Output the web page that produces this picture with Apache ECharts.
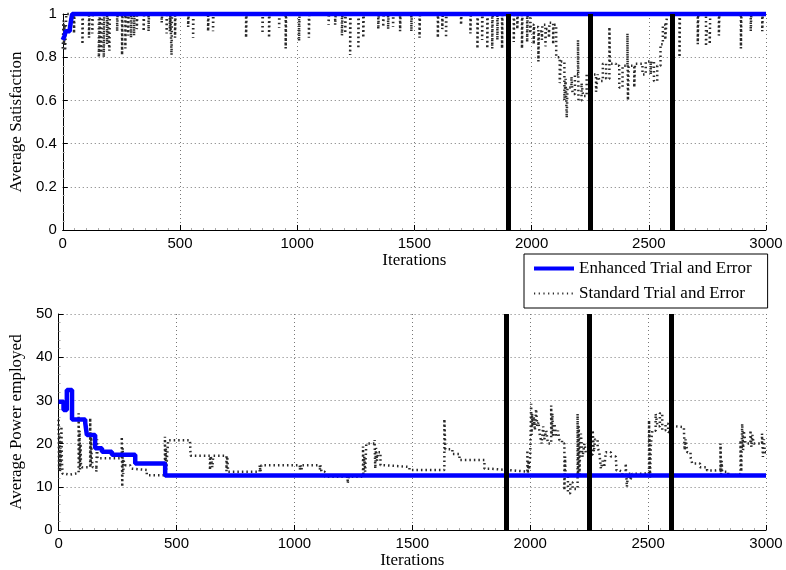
<!DOCTYPE html>
<html>
<head>
<meta charset="utf-8">
<script src="https://cdn.jsdelivr.net/npm/echarts@6/dist/echarts.min.js"></script>
<style>
  html, body { margin: 0; padding: 0; background: #fff; }
  #chart { width: 786px; height: 570px; }
</style>
</head>
<body>
<div id="chart"></div>
<script>
// Iteration markers where the network configuration changes
const eventIters = [1900, 2250, 2600];

// Average satisfaction, enhanced trial and error (step signal)
const satEnhIter = [0, 8, 12, 30, 34, 40, 3000];
const satEnhVal  = [0.88, 0.90, 0.92, 0.93, 0.96, 1, 1];

// Average satisfaction, standard trial and error (step signal)
const satStdIter = [
  0, 3, 5, 8, 10, 13, 15,
  48, 50, 84, 86, 112, 114, 126, 128,
  154, 156, 158, 164, 166, 175, 177, 189, 191, 199, 201,
  232, 234, 253, 255, 267, 269, 279, 281, 291, 293, 295, 304, 306, 316, 318,
  345, 347, 366, 368, 422, 424, 443, 445, 457, 459, 464, 466, 479, 481,
  535, 537, 556, 558, 620, 622, 641, 643, 782, 784,
  852, 854, 880, 882, 923, 925, 951, 953, 1008, 1010, 1050, 1052,
  1134, 1136, 1162, 1164, 1191, 1193, 1205, 1207, 1226, 1228, 1261, 1263, 1282, 1284,
  1346, 1348, 1367, 1369, 1388, 1390, 1409, 1411, 1439, 1441, 1487, 1489,
  1522, 1524, 1600, 1602, 1619, 1621, 1635, 1637, 1699, 1701, 1739, 1741,
  1769, 1771, 1789, 1791, 1811, 1813, 1832, 1834, 1854, 1856, 1874, 1876,
  1924, 1926, 1939, 1941, 1959, 1961, 1981, 1983,
  1994, 1996, 2009, 2011, 2029, 2031, 2044, 2046, 2059, 2061, 2074, 2076, 2092, 2094,
  2105, 2120, 2125, 2140, 2145, 2150, 2153, 2170, 2175, 2185, 2198, 2200, 2213, 2220, 2235,
  2262, 2275, 2282, 2290, 2304, 2318, 2332, 2334, 2360, 2374, 2388, 2409, 2411, 2414,
  2438, 2441, 2473, 2487, 2508, 2511, 2522, 2536, 2550, 2560, 2570, 2578,
  2631, 2633, 2709, 2711, 2744, 2746, 2760, 2762, 2799, 2801,
  2893, 2895, 2935, 2937, 2984, 2986, 3000
];
const satStdVal = [
  0.84, 0.97, 0.86, 0.95, 0.83, 0.92, 1,
  0.91, 1, 0.86, 1, 0.89, 1, 0.91, 1,
  0.80, 0.90, 1, 0.82, 1, 0.80, 1, 0.86, 1, 0.83, 1,
  0.92, 1, 0.81, 1, 0.84, 1, 0.90, 1, 0.89, 0.95, 1, 0.90, 1, 0.93, 1,
  0.92, 1, 0.92, 1, 0.96, 1, 0.91, 1, 0.92, 1, 0.81, 1, 0.89, 1,
  0.94, 1, 0.89, 1, 0.92, 1, 0.92, 1, 0.89, 1,
  0.91, 1, 0.89, 1, 0.935, 1, 0.84, 1, 0.875, 1, 0.89, 1,
  0.95, 1, 0.95, 1, 0.90, 1, 0.91, 1, 0.81, 1, 0.84, 1, 0.89, 1,
  0.93, 1, 0.94, 1, 0.93, 1, 0.94, 1, 0.92, 1, 0.92, 1,
  0.89, 1, 0.89, 1, 0.93, 1, 0.89, 1, 0.95, 1, 0.91, 1,
  0.84, 1, 0.88, 1, 0.84, 1, 0.84, 1, 0.88, 1, 0.84, 1,
  0.87, 1, 0.93, 1, 0.84, 1, 0.87, 1,
  0.91, 0.95, 0.86, 0.94, 0.78, 0.92, 0.88, 0.95, 0.85, 0.93, 0.89, 0.96, 0.86, 0.95,
  0.80, 0.68, 0.78, 0.60, 0.70, 0.52, 0.66, 0.71, 0.63, 0.72, 0.88, 0.60, 0.68, 0.62, 0.72,
  0.72, 0.64, 0.72, 0.69, 0.77, 0.70, 0.94, 0.77, 0.76, 0.66, 0.76, 0.91, 0.60, 0.76,
  0.66, 0.77, 0.72, 0.78, 0.72, 0.78, 0.69, 0.76, 0.86, 0.95, 0.88, 1,
  0.80, 1, 0.86, 1, 0.85, 0.92, 0.86, 1, 0.90, 1,
  0.84, 1, 0.92, 1, 0.92, 1, 1
];

// Average power employed, enhanced trial and error (step signal)
const powEnhIter = [0, 21, 35, 57, 113, 120, 155, 184, 226, 325, 452, 3000];
const powEnhVal  = [29.7, 27.8, 32.4, 25.6, 24.8, 22.0, 18.9, 18.1, 17.4, 15.4, 12.6, 12.6];

// Average power employed, standard trial and error (step signal)
const powStdIter = [
  0, 2, 4, 6, 8, 10, 12, 14, 17, 30, 45,
  85, 87, 89, 91, 93, 95, 100,
  134, 136, 138, 140, 145, 160, 163, 165,
  268, 270, 272, 274, 276, 282, 303, 310, 317, 374,
  451, 453, 455, 457, 460, 465, 557, 560,
  642, 645, 652, 656, 712, 715, 719,
  853, 856, 860, 1023, 1026, 1030, 1033,
  1108, 1110, 1115, 1129, 1226, 1230,
  1291, 1293, 1296, 1300, 1305, 1340, 1343, 1346, 1350, 1355, 1365, 1382,
  1488, 1636, 1640, 1670, 1700, 1806, 1827, 1925,
  1988, 1990, 1993, 1996, 2000,
  2004, 2006, 2008, 2010, 2015, 2020, 2025, 2030, 2035, 2040, 2048, 2055, 2060, 2068, 2075,
  2089, 2091, 2094, 2097, 2103, 2110, 2118, 2124, 2135,
  2145, 2148, 2150, 2160, 2170, 2180,
  2201, 2203, 2206, 2209, 2212, 2215, 2222, 2230, 2237,
  2265, 2270, 2275, 2286, 2293, 2300, 2307, 2314, 2321, 2342,
  2363, 2366, 2377, 2391, 2405, 2410, 2415, 2425, 2433, 2447,
  2504, 2508, 2512, 2518, 2532, 2540, 2550, 2560, 2574, 2585, 2595,
  2616, 2652, 2655, 2659, 2666, 2680, 2687, 2720, 2750, 2786,
  2807, 2809, 2812, 2814, 2840, 2870,
  2892, 2895, 2899, 2903, 2906, 2913,
  2934, 2938, 2942, 2948,
  2983, 2987, 2991, 2995, 3000
];
const powStdVal = [
  25.5, 14, 22, 13.5, 19, 15, 24, 16, 13, 12.8, 13.2,
  27, 16, 23, 14, 20, 15, 14.5,
  25.9, 15, 22, 17, 14.5, 13.5, 21, 16.6,
  21.6, 10, 19, 13, 16, 15, 15, 14.2, 13.9, 12.7,
  21.6, 12.3, 19, 14, 17, 20.8, 20.8, 17.2,
  13.9, 17.2, 14.5, 17.2, 13.6, 17, 13.5,
  15, 13.5, 15, 13.9, 15, 14, 15,
  13.9, 15, 13.5, 12.3, 10.8, 12.3,
  19.3, 13.1, 17, 13.5, 20, 20.8, 14.2, 19, 16, 18, 15, 14.6,
  13.9, 25.7, 18.7, 17.6, 16.2, 14.2, 13.8, 13.5,
  18.5, 13.1, 16, 14, 17,
  29.2, 22, 27, 24, 26.2, 23.1, 28, 24, 25, 22.3, 20, 24, 21, 23, 20,
  28.8, 22, 27, 21.5, 24.6, 21.5, 23, 20.8, 20,
  9.2, 17, 12.3, 8.5, 11, 9.5,
  26.9, 13, 24, 12.3, 20, 22.3, 16.9, 20, 17.5,
  23.1, 18.1, 21, 19, 18.1, 14.2, 16, 14.5, 18, 17,
  16.9, 13.8, 13.5, 12.7, 15.4, 10, 13, 11.5, 13, 13.1,
  25.4, 11.9, 20, 23, 26.9, 24, 27, 23.1, 24.6, 22.7, 24,
  23.8, 23.1, 18.5, 21, 18, 16.9, 15.4, 14.5, 13.8, 14,
  20, 12.3, 16, 13.5, 12.7, 13,
  20.8, 13.5, 24.6, 18.5, 23, 20,
  23.1, 19.2, 22, 20,
  22.3, 16.9, 21, 18, 18
];

const zip = (xs, ys) => xs.map((x, i) => [x, ys[i]]);

const SERIF = "'Liberation Serif', 'Times New Roman', serif";
const SANS = "'Liberation Sans', Arial, Helvetica, sans-serif";
const ENH = 'Enhanced Trial and Error';
const STD = 'Standard Trial and Error';
const BLUE = '#0000ff';
const DOT = '#2a2a2a';

const gridLine = { show: true, lineStyle: { color: '#777', width: 1, type: [1, 3] } };

function xAxisFor(gridIndex) {
  return {
    type: 'value', gridIndex, min: 0, max: 3000, interval: 500,
    name: 'Iterations', nameLocation: 'middle', nameGap: 20,
    nameTextStyle: { fontFamily: SERIF, fontSize: 17, color: '#000' },
    axisLine: { show: true, onZero: false, lineStyle: { color: '#000', width: 1 } },
    axisTick: { show: true, inside: true, length: 5, lineStyle: { color: '#000' } },
    minorTick: { show: true, splitNumber: 10, length: 2, lineStyle: { color: '#aaa' } },
    axisLabel: { fontFamily: SANS, fontSize: 15, color: '#000', margin: 6,
                 formatter: v => String(v) },
    splitLine: gridLine
  };
}

function yAxisFor(gridIndex, name, max, interval) {
  return {
    type: 'value', gridIndex, min: 0, max, interval,
    name, nameLocation: 'middle', nameGap: 30,
    nameTextStyle: { fontFamily: SERIF, fontSize: 17, color: '#000' },
    axisLine: { show: true, onZero: false, lineStyle: { color: '#000', width: 1 } },
    axisTick: { show: true, inside: true, length: 5, lineStyle: { color: '#000' } },
    minorTick: { show: true, splitNumber: 5, length: 2, lineStyle: { color: '#aaa' } },
    axisLabel: { fontFamily: SANS, fontSize: 15, color: '#000', margin: 6 },
    splitLine: gridLine
  };
}

// Dotted step trace: wide, short dashes give the stacked-tick look
function stdSeries(axisIndex, data) {
  return {
    name: STD, type: 'line', xAxisIndex: axisIndex, yAxisIndex: axisIndex,
    data, step: 'end', symbol: 'none', showSymbol: false, clip: false, z: 2,
    itemStyle: { color: DOT },
    lineStyle: { color: DOT, width: 2.5, type: [1.5, 3] }
  };
}

function enhSeries(axisIndex, data) {
  return {
    name: ENH, type: 'line', xAxisIndex: axisIndex, yAxisIndex: axisIndex,
    data, step: 'end', symbol: 'none', showSymbol: false, clip: false, z: 3,
    itemStyle: { color: BLUE },
    lineStyle: { color: BLUE, width: 4.5, type: 'solid' }
  };
}

function eventMarkers(axisIndex) {
  return {
    type: 'line', xAxisIndex: axisIndex, yAxisIndex: axisIndex,
    data: [], silent: true, z: 4, symbol: 'none',
    markLine: {
      silent: true, symbol: ['none', 'none'], animation: false,
      label: { show: false },
      lineStyle: { color: '#000', width: 5, type: 'solid' },
      emphasis: { disabled: true },
      data: eventIters.map(v => ({ xAxis: v }))
    }
  };
}

const chart = echarts.init(document.getElementById('chart'), null, { renderer: 'canvas' });

chart.setOption({
  animation: false,
  backgroundColor: '#fff',
  grid: [
    { left: 58, right: 20, top: 14, height: 216 },
    { left: 58, right: 20, top: 314, height: 216 }
  ],
  xAxis: [xAxisFor(0), xAxisFor(1)],
  yAxis: [
    yAxisFor(0, 'Average Satisfaction', 1, 0.2),
    yAxisFor(1, 'Average Power employed', 50, 10)
  ],
  legend: {
    data: [
      { name: ENH, lineStyle: { color: BLUE, width: 4, type: 'solid' } },
      { name: STD, lineStyle: { color: DOT, width: 2, type: [1.2, 3.5] } }
    ],
    orient: 'vertical', left: 524, top: 254,
    padding: [6, 16, 6, 8], itemGap: 8,
    itemWidth: 40, itemHeight: 12,
    borderColor: '#000', borderWidth: 1, borderRadius: 0,
    backgroundColor: '#fff', selectedMode: false,
    itemStyle: { opacity: 0 },
    textStyle: { fontFamily: SERIF, fontSize: 17, color: '#000' }
  },
  series: [
    stdSeries(0, zip(satStdIter, satStdVal)),
    enhSeries(0, zip(satEnhIter, satEnhVal)),
    eventMarkers(0),
    stdSeries(1, zip(powStdIter, powStdVal)),
    enhSeries(1, zip(powEnhIter, powEnhVal)),
    eventMarkers(1)
  ]
});
</script>
</body>
</html>
